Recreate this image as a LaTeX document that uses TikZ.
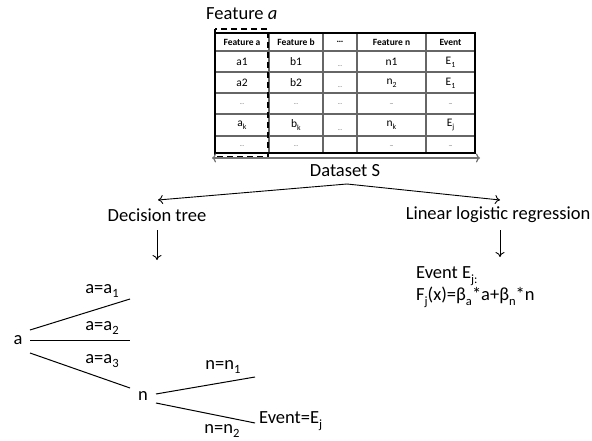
\documentclass[tikz,border=0pt]{standalone}
\usepackage{fontspec}
\setmainfont{Carlito}
\usetikzlibrary{arrows.meta}
\newcommand{\tsb}[1]{\raisebox{-0.25em}{\scalebox{0.68}{#1}}}
\begin{document}
\begin{tikzpicture}[x=1pt,y=-1pt,
  lbl/.style={inner sep=0pt,font=\fontsize{18.5}{20}\selectfont},
  hdr/.style={inner sep=0pt,font=\fontsize{9.5}{10}\selectfont\bfseries},
  cell/.style={inner sep=0pt,font=\fontsize{11.5}{12}\selectfont},
  arr/.style={-{To[length=5pt,width=9pt]},line width=0.9pt},
  branch/.style={line width=1pt},
  inner/.style={line width=1.1pt,black!60},
  outer/.style={line width=1.1pt,black}]
\useasboundingbox (0,0) rectangle (592,441);
% ---- label ----
\node[lbl,anchor=west] (featlbl) at (206,14) {Feature \textit{a}};
% ---- table grid ----
\foreach \yy in {51,72,93,114,136} \draw[inner] (215,\yy) -- (475,\yy);
\foreach \xx in {269,323,357,426} \draw[inner] (\xx,33) -- (\xx,153);
\draw[outer] (215,33) rectangle (475,153);
% ---- table text ----
\foreach \cx/\txt [count=\i] in {242/Feature a,296/Feature b,340/\ldots,391.5/Feature n,450.5/Event}
  \node[hdr] (h\i) at (\cx,42) {\txt};
\node[cell] (r1c1) at (242,61.5) {a1};
\node[cell] (r1c2) at (296,61.5) {b1};
\node[cell] (r1c3) at (340,66) {\tiny\ldots};
\node[cell] (r1c4) at (391.5,61.5) {n1};
\node[cell] (r1c5) at (450.5,62.5) {E\tsb{1}};
\node[cell] (r2c1) at (242,82.5) {a2};
\node[cell] (r2c2) at (296,82.5) {b2};
\node[cell] (r2c3) at (340,87) {\tiny\ldots};
\node[cell] (r2c4) at (391.5,83.5) {n\tsb{2}};
\node[cell] (r2c5) at (450.5,83.5) {E\tsb{1}};
\foreach \cx [count=\i] in {242,296,340,391.5,450.5}
  \node[cell] (r3c\i) at (\cx,104) {\tiny\ldots};
\node[cell] (r4c1) at (242,125) {a\tsb{k}};
\node[cell] (r4c2) at (296,125) {b\tsb{k}};
\node[cell] (r4c3) at (340,130) {\tiny\ldots};
\node[cell] (r4c4) at (391.5,125) {n\tsb{k}};
\node[cell] (r4c5) at (450.5,125) {E\tsb{j}};
\foreach \cx [count=\i] in {242,296,391.5,450.5}
  \node[cell] (r5c\i) at (\cx,146) {\tiny\ldots};
% ---- dashed selection ----
\draw[line width=2.2pt,dash pattern=on 6pt off 4pt] (215,29) rectangle (268,157);
% ---- dataset arrow ----
\coordinate (dl) at (212,158);
\coordinate (dr) at (480,158);
\draw[{To[length=4pt,width=9pt]}-{To[length=4pt,width=9pt]},line width=1.2pt,black!55] (dl) -- (dr);
\node[lbl] (ds) at (345,171) {Dataset S};
\coordinate (split) at (347,184);
\node[lbl] (dt) at (157,215) {Decision tree};
\node[lbl] (llr) at (498,215) {Linear logistic regression};
\coordinate (dttip) at (158,200);
\coordinate (llrtip) at (500,200);
\draw[arr] (split) -- (dttip);
\draw[arr] (split) -- (llrtip);
\coordinate (dtd1) at (157,230);
\coordinate (dtd2) at (157,260);
\coordinate (llrd1) at (500,230);
\coordinate (llrd2) at (500,257);
\draw[arr] (dtd1) -- (dtd2);
\draw[arr] (llrd1) -- (llrd2);
% ---- logistic result ----
\node[lbl,anchor=west] (ev) at (416,276) {Event E\tsb{j:}};
\node[lbl,anchor=west] (fx) at (416,297) {F\tsb{j}(x)=β\tsb{a}*a+β\tsb{n}*n};
% ---- tree ----
\node[lbl] (a) at (18,340) {a};
\coordinate (a1s) at (30,330);
\coordinate (a1e) at (130,299);
\coordinate (a2s) at (30,340);
\coordinate (a2e) at (130,340);
\coordinate (a3s) at (30,353);
\node[lbl] (n) at (143,396) {n};
\coordinate (a3e) at (130,388);
\draw[branch] (a1s) -- (a1e);
\draw[branch] (a2s) -- (a2e);
\draw[branch] (a3s) -- (a3e);
\node[lbl] (la1) at (102,291) {a=a\tsb{1}};
\node[lbl] (la2) at (102,328) {a=a\tsb{2}};
\node[lbl] (la3) at (102,361) {a=a\tsb{3}};
\coordinate (n1s) at (156,394);
\coordinate (n1e) at (255,377);
\coordinate (n2s) at (156,403);
\node[lbl,anchor=west] (evj) at (259,421) {Event=E\tsb{j}};
\coordinate (n2e) at (255,423);
\draw[branch] (n1s) -- (n1e);
\draw[branch] (n2s) -- (n2e);
\node[lbl] (ln1) at (223,367) {n=n\tsb{1}};
\node[lbl] (ln2) at (222,431) {n=n\tsb{2}};
\end{tikzpicture}
\end{document}
